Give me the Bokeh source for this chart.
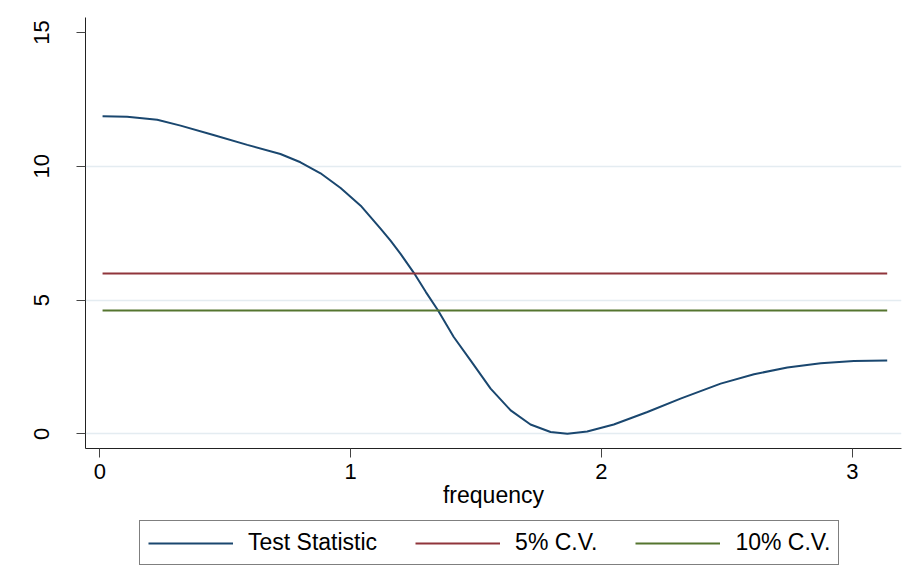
from bokeh.plotting import figure
from bokeh.models import Legend, LegendItem, FixedTicker, Range1d
from bokeh.layouts import column
from bokeh.embed import file_html
from bokeh.resources import INLINE

# ---- data ----
freq = [0.011, 0.109, 0.229, 0.322, 0.453, 0.588, 0.720, 0.800, 0.880, 0.960,
        1.040, 1.120, 1.159, 1.199, 1.252, 1.300, 1.348, 1.411, 1.478, 1.558,
        1.638, 1.717, 1.797, 1.864, 1.943, 2.049, 2.183, 2.315, 2.475, 2.608,
        2.741, 2.874, 3.006, 3.139]
stat = [11.87, 11.85, 11.74, 11.52, 11.17, 10.80, 10.46, 10.15, 9.74, 9.19,
        8.53, 7.66, 7.22, 6.73, 6.02, 5.30, 4.62, 3.62, 2.75, 1.69,
        0.88, 0.35, 0.07, 0.01, 0.09, 0.35, 0.82, 1.32, 1.88, 2.23,
        2.48, 2.64, 2.72, 2.74]
cv5 = 5.99
cv10 = 4.61
x_ticks = [0, 1, 2, 3]
y_ticks = [0, 5, 10, 15]
y_grid = [0, 5, 10]
series_names = ["Test Statistic", "5% C.V.", "10% C.V."]

FONT = "Liberation Sans"
NAVY = "#1a476f"
MAROON = "#90353b"
GREEN = "#55752f"

p = figure(width=912, height=518, output_backend="svg", toolbar_location=None,
           x_range=Range1d(-0.057, 3.196), y_range=Range1d(-0.545, 15.56),
           min_border_left=85, min_border_right=11, min_border_top=17,
           min_border_bottom=70)
p.outline_line_color = None
p.background_fill_color = "white"
p.border_fill_color = "white"

p.line(freq, stat, line_color=NAVY, line_width=2)
p.line([freq[0], freq[-1]], [cv5, cv5], line_color=MAROON, line_width=2)
p.line([freq[0], freq[-1]], [cv10, cv10], line_color=GREEN, line_width=2)

# grid
p.xgrid.visible = False
p.ygrid.ticker = FixedTicker(ticks=y_grid)
p.ygrid.grid_line_color = "#e4ecf1"
p.ygrid.grid_line_width = 1.5

# axes
for ax in (p.xaxis[0], p.yaxis[0]):
    ax.axis_line_color = "#222222"
    ax.axis_line_width = 1
    ax.major_tick_line_color = "#444444"
    ax.major_tick_out = 9
    ax.major_tick_in = 0
    ax.minor_tick_out = 0
    ax.minor_tick_in = 0
    ax.major_label_text_font = FONT
    ax.major_label_text_font_size = "22px"
    ax.major_label_text_color = "black"

p.xaxis.ticker = FixedTicker(ticks=x_ticks)
p.yaxis.ticker = FixedTicker(ticks=y_ticks)
p.xaxis.major_label_standoff = 6
p.yaxis.major_label_standoff = 27
p.yaxis.major_label_orientation = "vertical"

p.xaxis.axis_label = "frequency"
p.xaxis.axis_label_text_font = FONT
p.xaxis.axis_label_text_font_size = "23px"
p.xaxis.axis_label_text_font_style = "normal"
p.xaxis.axis_label_text_color = "black"
p.xaxis.axis_label_standoff = 0

# ---- legend strip (separate figure below the plot; its ranges keep the
#      series out of view so only the legend shows) ----
lg = figure(width=912, height=52, output_backend="svg", toolbar_location=None,
            x_range=Range1d(100, 101), y_range=Range1d(100, 101),
            x_axis_location=None, y_axis_location=None,
            min_border_left=0, min_border_right=0, min_border_top=0,
            min_border_bottom=0)
lg.outline_line_color = None
lg.xgrid.visible = False
lg.ygrid.visible = False
lg.background_fill_color = "white"
lg.border_fill_color = "white"
k_stat = lg.line(freq, stat, line_color=NAVY, line_width=2)
k_cv5 = lg.line([freq[0], freq[-1]], [cv5, cv5], line_color=MAROON, line_width=2)
k_cv10 = lg.line([freq[0], freq[-1]], [cv10, cv10], line_color=GREEN, line_width=2)

legend = Legend(items=[LegendItem(label=series_names[0], renderers=[k_stat]),
                       LegendItem(label=series_names[1], renderers=[k_cv5]),
                       LegendItem(label=series_names[2], renderers=[k_cv10])],
                orientation="horizontal", location=(54, 5), margin=0,
                padding=8, spacing=38, glyph_width=85, glyph_height=20,
                label_standoff=15, label_text_font=FONT,
                label_text_font_size="23px", label_text_color="black",
                border_line_color="black", border_line_width=1,
                background_fill_color="white", background_fill_alpha=1.0)
lg.add_layout(legend, "center")

layout = column(p, lg, spacing=0)
open("out.html", "w").write(file_html(layout, INLINE))
